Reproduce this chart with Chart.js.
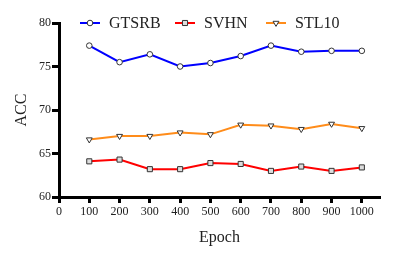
<!DOCTYPE html>
<html>
  <head>
    <meta charset="UTF-8"/>
    <title>ACC vs Epoch</title>
    <script src="https://cdn.jsdelivr.net/npm/chart.js@4/dist/chart.umd.min.js"></script>
    <style>
     html, body { margin: 0; padding: 0; background: #fff; }
     #wrap { width: 416px; height: 259px; }
    </style>
  </head>
  <body>
    <div id="wrap"><canvas id="chart" width="416" height="259"></canvas></div>

    <script>
     var epochs = [100, 200, 300, 400, 500, 600, 700, 800, 900, 1000];
     var gtsrb = [77.4, 75.5, 76.4, 75.0, 75.4, 76.2, 77.4, 76.7, 76.8, 76.8];
     var svhn  = [64.1, 64.3, 63.2, 63.2, 63.9, 63.8, 63.0, 63.5, 63.0, 63.4];
     var stl10 = [66.6, 67.0, 67.0, 67.4, 67.2, 68.3, 68.2, 67.8, 68.4, 67.9];
     var xTicks = [0, 100, 200, 300, 400, 500, 600, 700, 800, 900, 1000];
     var yTicks = [60, 65, 70, 75, 80];

     var serif = "'Liberation Serif', 'Times New Roman', serif";

     function points(vals){
         return epochs.map((e, i) => ({x: e, y: vals[i]}));
     }

     function series(label, vals, color, style, fill, rot, r){
         return {
             label: label,
             data: points(vals),
             borderColor: color,
             borderWidth: 2,
             pointStyle: style,
             pointRotation: rot,
             pointRadius: r,
             pointBackgroundColor: fill,
             pointBorderColor: '#333',
             pointBorderWidth: 1,
             tension: 0
         };
     }

     // legend drawn as line + marker, sitting on top of the plot
     var lineLegend = {
         id: 'lineLegend',
         afterDraw: function(chart){
             var ctx = chart.ctx;
             var xs = [80, 175, 266];
             ctx.save();
             chart.data.datasets.forEach(function(ds, i){
                 var x = xs[i], y = 23;
                 ctx.strokeStyle = ds.borderColor;
                 ctx.lineWidth = 2;
                 ctx.beginPath();
                 ctx.moveTo(x, y);
                 ctx.lineTo(x + 20, y);
                 ctx.stroke();
                 ctx.fillStyle = ds.pointBackgroundColor;
                 ctx.strokeStyle = ds.pointBorderColor;
                 ctx.lineWidth = 1;
                 Chart.helpers.drawPoint(ctx, {
                     pointStyle: ds.pointStyle,
                     rotation: ds.pointRotation,
                     radius: ds.pointRadius,
                     borderWidth: 1
                 }, x + 10, y);
                 ctx.fillStyle = '#222';
                 ctx.font = '16px ' + serif;
                 ctx.textBaseline = 'middle';
                 ctx.fillText(ds.label, x + 29, y + 1);
             });
             ctx.restore();
         }
     };

     new Chart('chart', {
         type: 'line',
         data: {
             datasets: [
                 series('GTSRB', gtsrb, '#0000ff', 'circle', '#ffffff', 0, 2.8),
                 series('SVHN', svhn, '#ff0000', 'rect', '#dddddd', 0, 3.6),
                 series('STL10', stl10, '#ff8c1a', 'triangle', '#ffffff', 180, 3.4)
             ]
         },
         options: {
             responsive: false,
             animation: false,
             layout: { padding: { top: 23, right: 36, left: 0, bottom: 6 } },
             plugins: { legend: { display: false }, tooltip: { enabled: false } },
             scales: {
                 x: {
                     type: 'linear',
                     min: 0,
                     max: 1060,
                     afterBuildTicks: function(s){ s.ticks = xTicks.map(v => ({value: v})); },
                     afterFit: function(s){ s.height = 56; },
                     border: { color: '#000', width: 3 },
                     grid: { drawOnChartArea: false, tickLength: 6, tickWidth: 3, color: '#000' },
                     ticks: { color: '#222', font: { family: serif, size: 12 }, padding: 2, maxRotation: 0, autoSkip: false,
                              callback: v => String(v) },
                     title: { display: true, text: 'Epoch', color: '#222', font: { family: serif, size: 16 }, padding: { top: 6, bottom: 6 } }
                 },
                 y: {
                     min: 60,
                     max: 80,
                     afterBuildTicks: function(s){ s.ticks = yTicks.map(v => ({value: v})); },
                     afterFit: function(s){ s.width = 59; },
                     border: { color: '#000', width: 3 },
                     grid: { drawOnChartArea: false, tickLength: 7, tickWidth: 3, color: '#000' },
                     ticks: { color: '#222', font: { family: serif, size: 12 }, padding: 1 },
                     title: { display: true, text: 'ACC', color: '#222', font: { family: serif, size: 16 }, padding: { top: 12, bottom: 2 } }
                 }
             }
         },
         plugins: [lineLegend]
     });
    </script>
  </body>
</html>
